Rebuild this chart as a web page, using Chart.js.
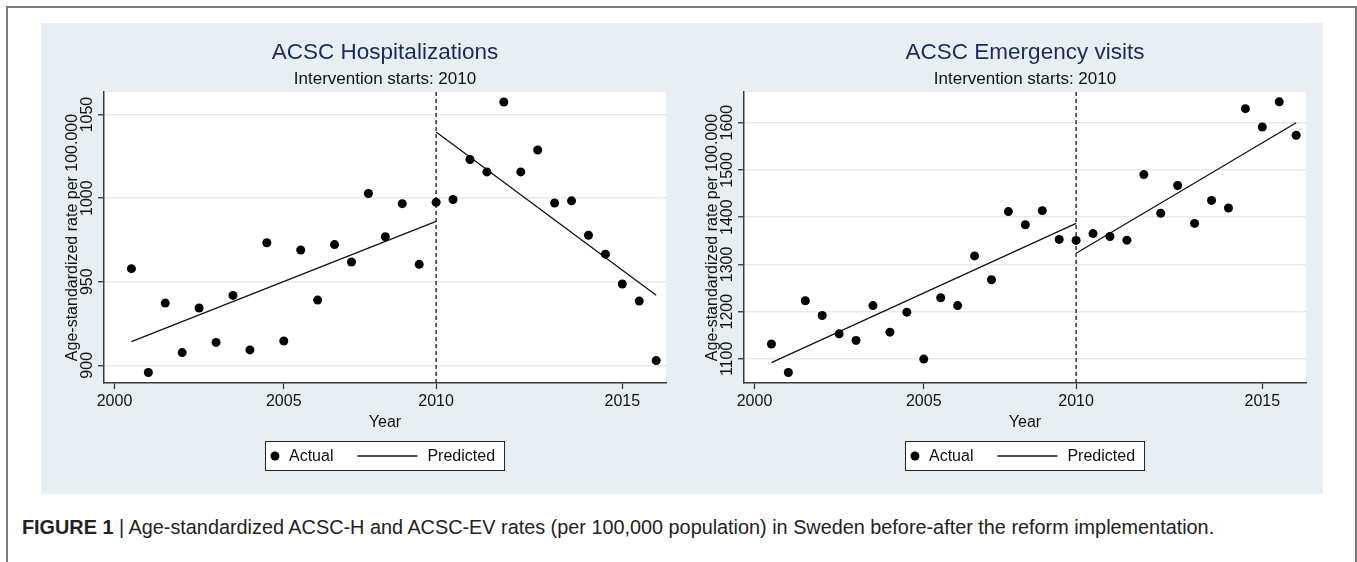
<!DOCTYPE html>
<html>
<head>
<meta charset="utf-8">
<script src="https://cdn.jsdelivr.net/npm/chart.js@4.4.1/dist/chart.umd.min.js"></script>
<style>
  html, body { margin: 0; padding: 0; background: #fff; width: 1357px; height: 562px; overflow: hidden; font-family: 'Liberation Sans', Arial, sans-serif; }
  #frame { position: absolute; left: 6px; top: 6px; width: 1347px; height: 600px; border: 2px solid #7b7b7b; border-bottom: none; }
  #panel { position: absolute; left: 41px; top: 23px; width: 1282px; height: 471px; background: #e8eff2; }
  canvas { position: absolute; top: 23px; }
  #hospChart { left: 41px; }
  #evChart { left: 681px; }
  #caption { position: absolute; left: 22px; top: 518px; white-space: nowrap; font-size: 17px; line-height: 1; color: #222; }
</style>
</head>
<body>
<div id="frame"></div>
<div id="panel"></div>
<canvas id="hospChart" width="640" height="471"></canvas>
<canvas id="evChart" width="640" height="471"></canvas>
<div id="caption"><b>FIGURE 1</b> | Age-standardized ACSC-H and ACSC-EV rates (per 100,000 population) in Sweden before-after the reform implementation.</div>
<script>
// half-year periods, first observation = 1
const periods = [1, 2, 3, 4, 5, 6, 7, 8, 9, 10, 11, 12, 13, 14, 15, 16,
  17, 18, 19, 20, 21, 22, 23, 24, 25, 26, 27, 28, 29, 30, 31, 32];
const yearTickPos = [0, 10, 19, 30];
const yearTickLabels = ['2000', '2005', '2010', '2015'];
const interventionPos = 19;
const xRange = [-0.62, 32.58];

const hospActual = [957.8, 895.7, 937.2, 907.6, 934.3, 913.7, 941.8, 909.2, 973.3, 914.5,
  969.0, 939.0, 972.2, 961.8, 1002.8, 976.9, 996.7, 960.4, 997.5, 999.2,
  1023.1, 1015.7, 1057.5, 1015.7, 1028.8, 997.1, 998.4, 977.8, 966.5, 948.6, 938.4, 902.8];
const evActual = [1131.6, 1071.3, 1223.2, 1192.0, 1153.0, 1139.1, 1212.8, 1156.6, 1198.9, 1099.6,
  1229.4, 1212.8, 1318.1, 1267.5, 1411.8, 1384.1, 1413.8, 1352.9, 1350.8, 1365.3,
  1359.1, 1351.4, 1490.2, 1408.4, 1467.0, 1386.8, 1435.5, 1419.5, 1629.7, 1590.8, 1644.2, 1573.5];

// fitted segments: start/end of pre period, start/end of post period
const predX = [1, 19, 19, 32];
const hospPredicted = [914.1, 986.1, 1039.6, 941.9];
const evPredicted = [1092.0, 1386.8, 1323.7, 1599.9];

const hospYTicks = [900, 950, 1000, 1050];
const evYTicks = [1100, 1200, 1300, 1400, 1500, 1600];
const hospRange = [889.4, 1063.5];
const evRange = [1049, 1665];

Chart.defaults.font.family = "'Liberation Sans', Arial, sans-serif";
Chart.defaults.color = '#111';

const plotBg = {
  id: 'plotBg',
  beforeDraw(chart) {
    const { ctx, chartArea: a } = chart;
    ctx.save();
    ctx.fillStyle = '#fff';
    ctx.fillRect(a.left, a.top, a.right - a.left, a.bottom - a.top);
    ctx.restore();
  }
};

const interventionLine = {
  id: 'interventionLine',
  beforeDatasetsDraw(chart) {
    const { ctx, chartArea: a } = chart;
    const x = chart.scales.x.getPixelForValue(interventionPos);
    ctx.save();
    ctx.strokeStyle = '#333';
    ctx.lineWidth = 1.5;
    ctx.setLineDash([4, 3]);
    ctx.beginPath();
    ctx.moveTo(x, a.top);
    ctx.lineTo(x, a.bottom);
    ctx.stroke();
    ctx.restore();
  }
};

const boxedLegend = {
  id: 'boxedLegend',
  afterDraw(chart) {
    const { ctx, chartArea: a } = chart;
    const pts = chart.data.datasets[0];
    const line = chart.data.datasets[1];
    ctx.save();
    ctx.font = "16px 'Liberation Sans', Arial, sans-serif";
    const w1 = ctx.measureText(pts.label).width;
    const w2 = ctx.measureText(line.label).width;
    const width = 24 + w1 + 24 + 60 + 10 + w2 + 10;
    const left = (a.left + a.right) / 2 - width / 2;
    const top = chart.scales.x.bottom + 8;
    const h = 30;
    const cy = top + h / 2;
    ctx.fillStyle = '#fff';
    ctx.fillRect(left, top, width, h);
    ctx.strokeStyle = '#222';
    ctx.lineWidth = 1;
    ctx.strokeRect(left + 0.5, top + 0.5, width - 1, h - 1);
    ctx.fillStyle = pts.backgroundColor;
    ctx.beginPath();
    ctx.arc(left + 10, cy, pts.pointRadius, 0, Math.PI * 2);
    ctx.fill();
    ctx.fillStyle = '#111';
    ctx.textBaseline = 'middle';
    ctx.fillText(pts.label, left + 24, cy + 1);
    let x = left + 24 + w1 + 24;
    ctx.strokeStyle = line.borderColor;
    ctx.lineWidth = line.borderWidth;
    ctx.beginPath();
    ctx.moveTo(x, cy);
    ctx.lineTo(x + 60, cy);
    ctx.stroke();
    ctx.fillText(line.label, x + 70, cy + 1);
    ctx.restore();
  }
};

function predictedPoints(ys) {
  // null point breaks the line at the intervention
  return [
    { x: predX[0], y: ys[0] }, { x: predX[1], y: ys[1] },
    { x: predX[1], y: null },
    { x: predX[2], y: ys[2] }, { x: predX[3], y: ys[3] }
  ];
}

function makeChart(id, title, actual, predicted, yTicks, yRange) {
  return new Chart(document.getElementById(id), {
    type: 'scatter',
    data: {
      datasets: [{
        label: 'Actual',
        data: periods.map((p, i) => ({ x: p, y: actual[i] })),
        backgroundColor: '#000',
        borderColor: '#000',
        pointRadius: 4.5,
        pointBorderWidth: 0
      }, {
        label: 'Predicted',
        data: predictedPoints(predicted),
        showLine: true,
        spanGaps: false,
        borderColor: '#111',
        borderWidth: 1.3,
        pointRadius: 0
      }]
    },
    options: {
      responsive: false,
      animation: false,
      events: [],
      layout: { padding: { left: 0, right: 15, top: 0, bottom: 61 } },
      plugins: {
        legend: { display: false },
        tooltip: { enabled: false },
        title: {
          display: true,
          text: title,
          fullSize: false,
          color: '#1b2a5c',
          font: { size: 22.5, weight: 'normal', lineHeight: 1.2 },
          padding: { top: 16.5, bottom: 0 }
        },
        subtitle: {
          display: true,
          text: 'Intervention starts: 2010',
          fullSize: false,
          color: '#111',
          font: { size: 17, lineHeight: 1.2 },
          padding: { top: 2.3, bottom: 2.8 }
        }
      },
      scales: {
        x: {
          type: 'linear',
          min: xRange[0],
          max: xRange[1],
          afterBuildTicks: s => { s.ticks = yearTickPos.map(v => ({ value: v })); },
          ticks: {
            autoSkip: false,
            padding: 5,
            font: { size: 16, lineHeight: 1 },
            callback: v => yearTickLabels[yearTickPos.indexOf(v)]
          },
          grid: { drawOnChartArea: false, tickLength: 6, tickColor: '#333', tickWidth: 1.3 },
          border: { display: true, color: '#3a3a3a', width: 1.5 },
          title: { display: true, text: 'Year', font: { size: 16, lineHeight: 1 }, padding: { top: 0, bottom: 2 } }
        },
        y: {
          min: yRange[0],
          max: yRange[1],
          afterBuildTicks: s => { s.ticks = yTicks.map(v => ({ value: v })); },
          afterFit: s => { s.width = 63; },
          ticks: {
            minRotation: 90,
            maxRotation: 90,
            crossAlign: 'center',
            padding: -7.8,
            font: { size: 16, lineHeight: 1 },
            callback: v => String(v)
          },
          grid: { color: '#e3ebef', lineWidth: 1.5, tickLength: 6, tickColor: '#333', tickWidth: 1.3 },
          border: { display: true, color: '#3a3a3a', width: 1.5 },
          title: {
            display: true,
            text: 'Age-standardized rate per 100.000',
            font: { size: 16, lineHeight: 1 },
            padding: { top: 23.6, bottom: 0 }
          }
        }
      }
    },
    plugins: [plotBg, interventionLine, boxedLegend]
  });
}

makeChart('hospChart', 'ACSC Hospitalizations', hospActual, hospPredicted, hospYTicks, hospRange);
makeChart('evChart', 'ACSC Emergency visits', evActual, evPredicted, evYTicks, evRange);

// fit caption to the printed line length
const cap = document.getElementById('caption');
const cw = cap.getBoundingClientRect().width;
const fs = 17 * 1193 / cw;
cap.style.fontSize = fs + 'px';
cap.style.top = (528 - fs / 2) + 'px';
</script>
</body>
</html>
